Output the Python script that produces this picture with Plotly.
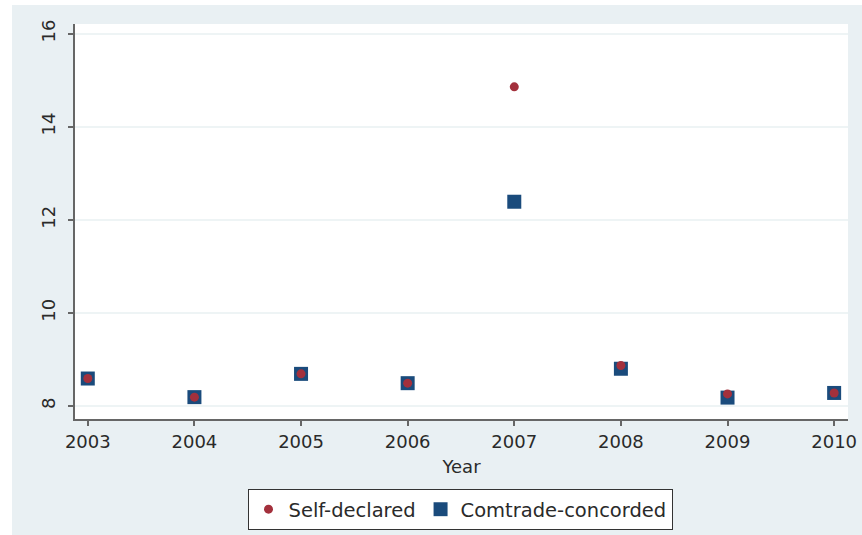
import plotly.graph_objects as go

years = [2003, 2004, 2005, 2006, 2007, 2008, 2009, 2010]
self_declared = [8.59, 8.19, 8.69, 8.49, 14.86, 8.87, 8.26, 8.28]
comtrade_concorded = [8.59, 8.19, 8.69, 8.49, 12.39, 8.80, 8.18, 8.28]
y_ticks = [8, 10, 12, 14, 16]

BG = "#e9f0f3"
FONT = "DejaVu Sans"

fig = go.Figure()

# squares drawn first so the circles sit on top of them
fig.add_trace(go.Scatter(
    x=years, y=comtrade_concorded, mode="markers", name="Comtrade-concorded",
    marker=dict(symbol="square", size=14, color="#1a4b7c"),
    legendrank=2,
))
fig.add_trace(go.Scatter(
    x=years, y=self_declared, mode="markers", name="Self-declared",
    marker=dict(symbol="circle", size=9, color="#a3303c"),
    legendrank=1,
))

W, H = 862, 535
ml, mr, mt, mb = 75, 14, 24, 116
pw, ph = W - ml - mr, H - mt - mb

def px(xp):
    return (xp - ml) / pw

def py(yp):
    return 1 - (yp - mt) / ph

fig.update_layout(
    width=W, height=H,
    margin=dict(l=ml, r=mr, t=mt, b=mb, autoexpand=False),
    paper_bgcolor=BG,
    plot_bgcolor="white",
    font=dict(family=FONT, size=18, color="#2a2a2a"),
    showlegend=True,
    legend=dict(
        orientation="h", x=px(460), xanchor="center", y=py(489), yanchor="top",
        bgcolor="white", bordercolor="#333", borderwidth=1,
        font=dict(size=19.5, color="#2a2a2a"), itemwidth=30,
    ),
    shapes=[
        dict(type="rect", xref="paper", yref="paper", x0=px(0), x1=px(12),
             y0=py(H + 5), y1=py(-5), fillcolor="white", line=dict(width=0), layer="above"),
        dict(type="rect", xref="paper", yref="paper", x0=px(0), x1=px(W + 5),
             y0=py(5), y1=py(-5), fillcolor="white", line=dict(width=0), layer="above"),
    ],
)

fig.update_xaxes(
    range=[2002.88, 2010.13], tickmode="array", tickvals=years,
    ticktext=[str(y) for y in years],
    showline=True, linecolor="#666", linewidth=2,
    ticks="outside", ticklen=5, tickcolor="#666", tickwidth=2,
    tickfont=dict(size=18), automargin=False,
    showgrid=False, zeroline=False,
    title=dict(text="Year", standoff=10, font=dict(size=18)),
)
fig.update_yaxes(
    range=[7.72, 16.21], tickmode="array", tickvals=y_ticks,
    showline=True, linecolor="#666", linewidth=2,
    ticks="outside", ticklen=5, tickcolor="#666", tickwidth=2,
    tickangle=-90, tickfont=dict(size=18), automargin=False,
    ticklabelstandoff=6,
    showgrid=True, gridcolor="#eef4f5", gridwidth=1.5, zeroline=False,
)

fig.write_html("out.html")
